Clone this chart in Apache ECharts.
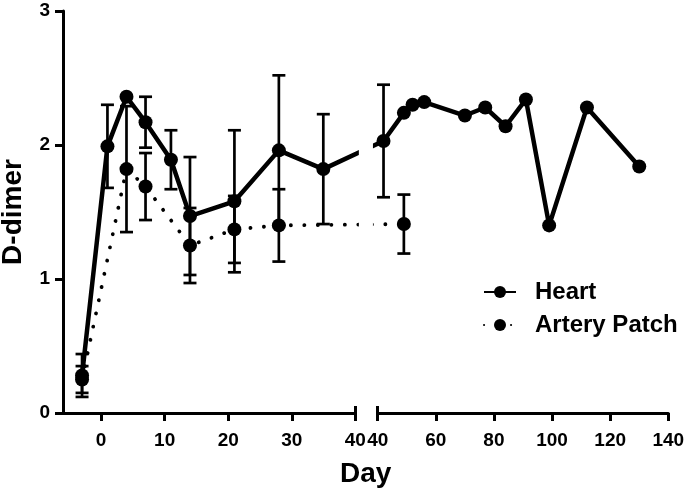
<!DOCTYPE html>
<html><head><meta charset="utf-8">
<script src="https://cdn.jsdelivr.net/npm/echarts@6/dist/echarts.min.js"></script>
<style>html,body{margin:0;padding:0;background:#fff}#c{width:685px;height:490px}</style>
</head><body><div id="c"></div>
<script>
// ---- data (day, D-dimer, SEM) ----
const heartDays   = [-3, 1, 4, 7, 11, 14, 21, 28, 35, 42, 49, 52, 56, 70, 77, 84, 91, 99, 112, 130];
const heartValues = [0.28, 1.99, 2.36, 2.17, 1.89, 1.47, 1.58, 1.96, 1.82, 2.03, 2.24, 2.30, 2.32, 2.22, 2.28, 2.14, 2.34, 1.40, 2.28, 1.84];
const heartErrors = [0.16, 0.31, null, 0.19, 0.22, 0.44, 0.53, 0.56, 0.41, 0.42, null, null, null, null, null, null, null, null, null, null];
const arteryDays   = [-3, 4, 7, 14, 21, 28, 49];
const arteryValues = [0.25, 1.82, 1.69, 1.25, 1.37, 1.40, 1.41];
const arteryErrors = [0.10, 0.47, 0.25, 0.28, 0.25, 0.27, 0.22];
const earlyTicks = [0, 10, 20, 30, 40];
const lateTicks  = [40, 60, 80, 100, 120, 140];
const yTicks = [0, 1, 2, 3];

// ---- broken-axis layout (scale of the right segment relative to the left one) ----
const BREAK = 40, GAP = 3.57, K = 0.4577, XMIN = -6, XMAX = 140;
function u(d) { return d <= BREAK ? d : BREAK + GAP + (d - BREAK) * K; }

const FONT = "'Liberation Sans', Arial, sans-serif";
const heartLine = heartDays.map((d, i) => [u(d), heartValues[i]]);
const arteryLine = arteryDays.map((d, i) => [u(d), arteryValues[i]]);
const heartErr = heartDays.map((d, i) => heartErrors[i] == null ? null : [u(d), heartValues[i] - heartErrors[i], heartValues[i] + heartErrors[i]]).filter(Boolean);
const arteryErr = arteryDays.map((d, i) => [u(d), arteryValues[i] - arteryErrors[i], arteryValues[i] + arteryErrors[i]]);

function errRender(params, api) {
  const x = api.value(0), lo = api.value(1), hi = api.value(2);
  const a = api.coord([x, lo]), b = api.coord([x, hi]);
  const cw = 6.5;
  const style = { stroke: '#000', lineWidth: 2.7 };
  return { type: 'group', children: [
    { type: 'line', shape: { x1: a[0], y1: a[1], x2: b[0], y2: b[1] }, style: style },
    { type: 'line', shape: { x1: a[0] - cw, y1: a[1], x2: a[0] + cw, y2: a[1] }, style: style },
    { type: 'line', shape: { x1: b[0] - cw, y1: b[1], x2: b[0] + cw, y2: b[1] }, style: style }
  ]};
}

const chart = echarts.init(document.getElementById('c'), null, { renderer: 'canvas' });
const axisLbl = { color: '#000', fontFamily: FONT, fontWeight: 'bold', fontSize: 19 };
const gridBase = { top: 11, bottom: 77, containLabel: false, outerBoundsMode: 'none' };
const segAxis = (grid, min, max, ticks, labels) => ({
  type: 'value', gridIndex: grid, min: min, max: max, position: 'bottom', offset: 0,
  axisLine: { show: true, onZero: false, lineStyle: { color: '#000', width: 3 } },
  axisTick: { show: true, customValues: ticks, length: 8, lineStyle: { color: '#000', width: 3 } },
  axisLabel: Object.assign({ show: true, customValues: labels, margin: 18 }, axisLbl),
  splitLine: { show: false }
});
const capAxis = (grid, min, max, capVal) => ({
  type: 'value', gridIndex: grid, min: min, max: max, position: 'bottom', offset: 0,
  axisLine: { show: false, onZero: false },
  axisTick: { show: true, inside: true, customValues: [capVal], length: 7, lineStyle: { color: '#000', width: 3 } },
  axisLabel: { show: false }, splitLine: { show: false }
});

chart.setOption({
  animation: false,
  backgroundColor: '#fff',
  grid: [
    Object.assign({ left: 63, right: 16.7 }, gridBase),
    Object.assign({ left: 63, width: 292.3 }, gridBase),
    Object.assign({ left: 377.7, right: 16.7 }, gridBase)
  ],
  xAxis: [
    { type: 'value', gridIndex: 0, min: XMIN, max: u(XMAX), position: 'bottom',
      axisLine: { show: false, onZero: false }, axisTick: { show: false }, axisLabel: { show: false }, splitLine: { show: false },
      name: 'Day', nameLocation: 'middle', nameGap: 47,
      nameTextStyle: { color: '#000', fontFamily: FONT, fontWeight: 'bold', fontSize: 28 } },
    segAxis(1, XMIN, BREAK, earlyTicks, earlyTicks),
    capAxis(1, XMIN, BREAK, BREAK),
    segAxis(2, BREAK, XMAX, lateTicks, lateTicks),
    capAxis(2, BREAK, XMAX, BREAK)
  ],
  yAxis: [
    { type: 'value', gridIndex: 0, min: 0, max: 3, interval: 1, position: 'left',
      axisLine: { show: true, onZero: false, lineStyle: { color: '#000', width: 3 } },
      axisTick: { show: true, length: 8, lineStyle: { color: '#000', width: 3 } },
      axisLabel: Object.assign({ margin: 13 }, axisLbl),
      splitLine: { show: false },
      name: 'D-dimer', nameLocation: 'middle', nameGap: 36,
      nameTextStyle: { color: '#000', fontFamily: FONT, fontWeight: 'bold', fontSize: 28 } },
    { type: 'value', gridIndex: 1, min: 0, max: 3, show: false },
    { type: 'value', gridIndex: 2, min: 0, max: 3, show: false }
  ],
  legend: {
    data: ['Heart', 'Artery Patch'], orient: 'vertical', left: 478, top: 275,
    itemWidth: 32, itemHeight: 15, itemGap: 9,
    textStyle: { color: '#000', fontFamily: FONT, fontWeight: 'bold', fontSize: 24, padding: [0, 0, 0, 14] }
  },
  series: [
    { type: 'custom', name: 'heartErr', xAxisIndex: 0, yAxisIndex: 0, renderItem: errRender,
      encode: { x: 0, y: [1, 2] }, data: heartErr, z: 1 },
    { type: 'custom', name: 'arteryErr', xAxisIndex: 0, yAxisIndex: 0, renderItem: errRender,
      encode: { x: 0, y: [1, 2] }, data: arteryErr, z: 1 },
    { type: 'line', name: 'Artery Patch', xAxisIndex: 0, yAxisIndex: 0, data: arteryLine,
      symbol: 'circle', symbolSize: 14, itemStyle: { color: '#000' },
      lineStyle: { color: '#000', width: 3.8, type: [0.1, 13.4], cap: 'round' }, z: 3 },
    { type: 'line', name: 'Heart', xAxisIndex: 0, yAxisIndex: 0, data: heartLine,
      symbol: 'circle', symbolSize: 14, itemStyle: { color: '#000' },
      lineStyle: { color: '#000', width: 4.5 }, z: 4 }
  ]
});

// white gap for the axis break
const x1 = chart.convertToPixel({ xAxisIndex: 0 }, BREAK + 0.6);
const x2 = chart.convertToPixel({ xAxisIndex: 0 }, BREAK + GAP - 0.75);
const yTop = chart.convertToPixel({ yAxisIndex: 0 }, 3);
const yBot = chart.convertToPixel({ yAxisIndex: 0 }, 0);
chart.setOption({ graphic: [{ type: 'rect', z: 100, shape: { x: x1, y: yTop, width: x2 - x1, height: yBot - yTop - 8 }, style: { fill: '#fff' } }] });
</script></body></html>
